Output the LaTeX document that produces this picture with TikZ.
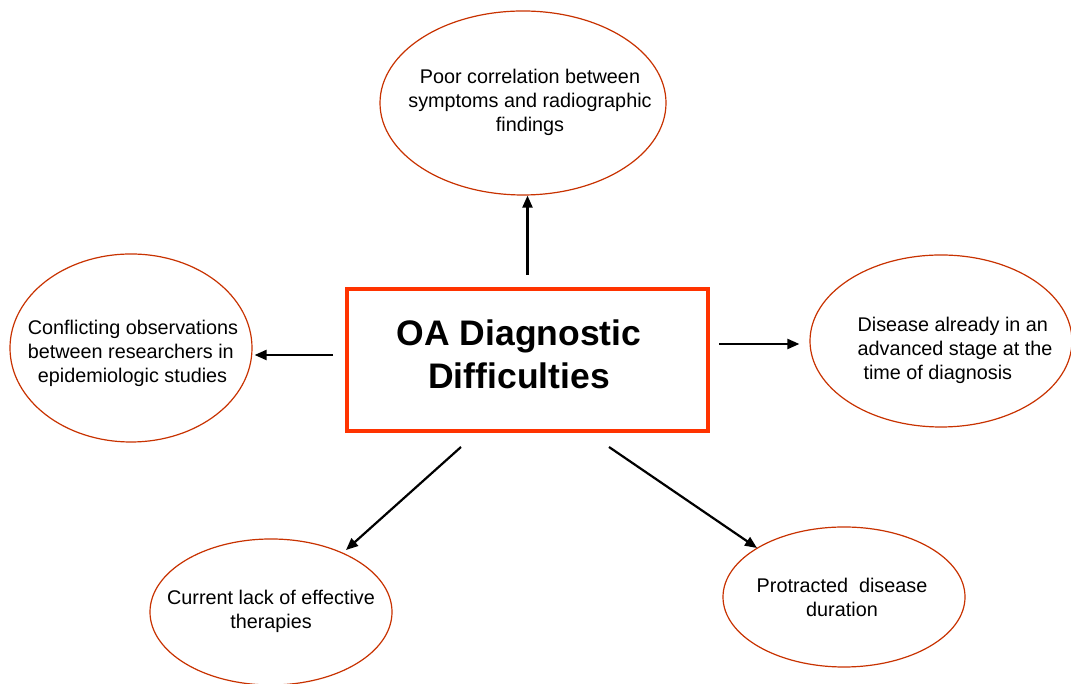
\documentclass[tikz,border=0pt]{standalone}
\usepackage{fontspec}
\setmainfont{Liberation Sans}
\usetikzlibrary{shapes.geometric,arrows.meta}
\definecolor{ellred}{RGB}{200,50,0}
\definecolor{boxred}{RGB}{255,51,0}
\begin{document}
\begin{tikzpicture}[x=1pt,y=1pt,
  bubble/.style={draw=ellred, line width=1.2pt, ellipse, inner sep=0pt},
  btext/.style={font=\fontsize{19.8}{24}\selectfont},
  titlebox/.style={draw=boxred, line width=4pt, rectangle, inner sep=0pt,
    minimum width=361pt, minimum height=142pt},
  arr/.style={-{Triangle[length=12pt,width=10pt]}, line width=2.2pt, black}]
\useasboundingbox (0,0) rectangle (1071,684);
\fill[white] (0,0) rectangle (1071,684);

\node[titlebox] (box) at (527.5,324) {};
\node[font=\fontsize{35.5}{43}\selectfont\bfseries, align=center] (title) at (519,330) {OA Diagnostic\\Difficulties};

\node[bubble, minimum width=286pt, minimum height=184pt] (top) at (523,581) {};
\node[btext, align=center] (toptxt) at (530,582) {Poor correlation between\\symptoms and radiographic\\findings};

\node[bubble, minimum width=262pt, minimum height=172pt] (right) at (941,343) {};
\node[btext, align=left] (righttxt) at (955,334) {Disease already in an\\advanced stage at the\\\hspace*{6pt}time of diagnosis};

\node[bubble, minimum width=242pt, minimum height=140pt] (br) at (844,87) {};
\node[btext, align=center] (brtxt) at (842,87) {Protracted\ \ disease\\duration};

\node[bubble, minimum width=242pt, minimum height=146pt] (bl) at (271,72) {};
\node[btext, align=center] (bltxt) at (271,73) {Current lack of effective\\therapies};

\node[bubble, minimum width=242pt, minimum height=188pt] (left) at (131,336) {};
\node[btext, align=left] (lefttxt) at (133,331) {Conflicting observations\\between researchers in\\\hspace*{10pt}epidemiologic studies};

\coordinate (sbl) at (461,237);
\coordinate (sbr) at (609,237);
\coordinate (ebl) at (346,134);
\coordinate (ebr) at (757,136);

\draw[arr, shorten <=12pt] (box.north) -- (box.north |- top.south);
\draw[arr, shorten <=9pt, shorten >=10pt] (box.east |- 0,340) -- (right.west |- 0,340);
\draw[arr, shorten <=12pt, shorten >=2pt] (box.west |- 0,329) -- (left.east |- 0,329);
\draw[arr] (sbl) -- (ebl);
\draw[arr] (sbr) -- (ebr);
\end{tikzpicture}
\end{document}
